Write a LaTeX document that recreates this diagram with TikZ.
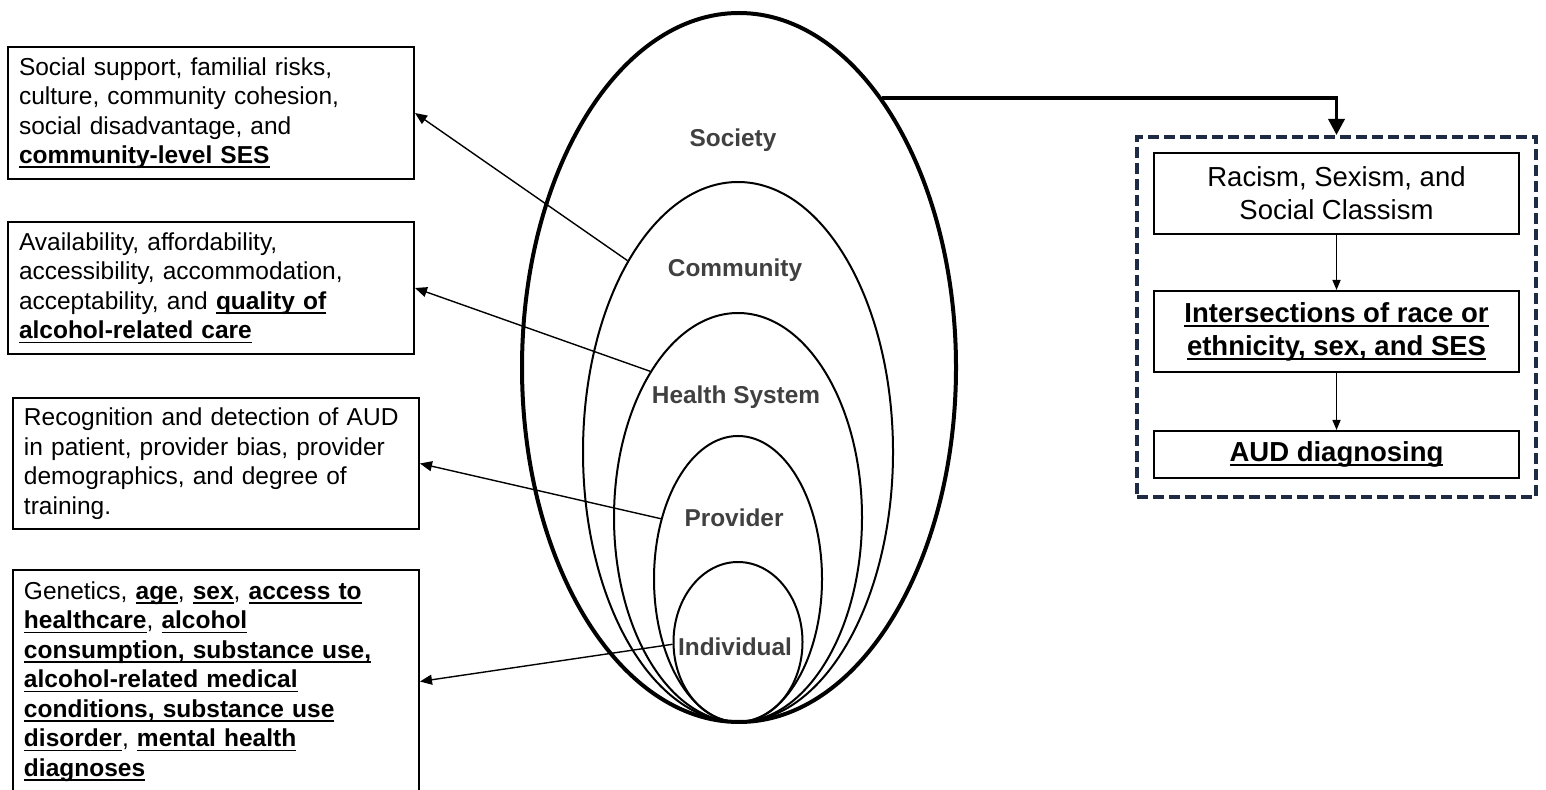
\documentclass[tikz,border=0pt]{standalone}
\usepackage{fontspec}
\setmainfont{Liberation Sans}
\usetikzlibrary{arrows.meta,shapes.geometric,calc}
\definecolor{navy}{RGB}{31,42,68}
\definecolor{lblgray}{RGB}{64,64,64}
\newcommand{\ulx}[1]{\leavevmode\setbox0\hbox{#1}\rlap{\rule[-2.3pt]{\wd0}{0.9pt}}\box0}
\newcommand{\ub}[1]{\ulx{\bfseries #1}}
\tikzset{
  leftbox/.style={draw, line width=1pt, rectangle, align=left, text width=192pt,
    inner xsep=5.5pt, inner ysep=0pt, anchor=north west,
    font=\fontsize{12.25}{14.75}\selectfont},
  ring/.style={ellipse, draw, line width=1pt, inner sep=0pt},
  lbl/.style={text=lblgray, font=\fontsize{12.2}{14}\selectfont\bfseries, inner sep=0pt},
  conn/.style={line width=0.7pt, -{Triangle[length=6pt,width=5pt]}},
  sconn/.style={line width=0.7pt, -{Triangle[length=5pt,width=4pt]}},
  bigconn/.style={line width=1.75pt, -{Triangle[length=8pt,width=8pt]}},
  grpbox/.style={draw=navy, line width=2pt, dash pattern=on 5.5pt off 2.5pt,
    minimum width=199.5pt, minimum height=180pt, inner sep=0pt},
  rbox/.style={draw, line width=1pt, minimum width=182.5pt, align=center, inner sep=0pt,
    font=\fontsize{13.75}{16.5}\selectfont},
  rboxb/.style={rbox, font=\fontsize{13.75}{16.5}\selectfont\bfseries}
}
\begin{document}
\begin{tikzpicture}[x=0.5pt,y=-0.5pt]
\useasboundingbox (0,0) rectangle (1546,790);

% rings
\node[ring, line width=2pt, minimum width=217pt, minimum height=354.5pt] (soc) at (739,367.5) {};
\node[ring, minimum width=155pt, minimum height=270pt] (com) at (738,452) {};
\node[ring, minimum width=124pt, minimum height=204.5pt] (hea) at (738,517.5) {};
\node[ring, minimum width=84pt, minimum height=143pt] (pro) at (738,579) {};
\node[ring, minimum width=64.5pt, minimum height=80pt] (ind) at (738,642) {};

% ring labels
\node[lbl] (lsoc) at (733,140) {Society};
\node[lbl] (lcom) at (735,270) {Community};
\node[lbl] (lhea) at (736,397) {Health System};
\node[lbl] (lpro) at (734,518) {Provider};
\node[lbl] (lind) at (735,647) {Individual};

% left boxes
\node[leftbox, minimum height=66pt] (b1) at (7,46)
  {Social support, familial risks,\\culture, community cohesion,\\social disadvantage, and\\\ub{community-level SES}};
\node[leftbox, minimum height=66pt] (b2) at (7,221)
  {Availability, affordability,\\accessibility, accommodation,\\acceptability, and \ub{quality of}\\\ub{alcohol-related care}};
\node[leftbox, minimum height=65.5pt] (b3) at (12,397)
  {Recognition and detection of AUD\\in patient, provider bias, provider\\demographics, and degree of\\training.};
\node[leftbox, minimum height=111.5pt] (b4) at (12,569)
  {Genetics, \ub{age}, \ub{sex}, \ub{access to}\\\ub{healthcare}, \ub{alcohol}\\\ub{consumption, substance use,}\\\ub{alcohol-related medical}\\\ub{conditions, substance use}\\\ub{disorder}, \ub{mental health}\\\ub{diagnoses}};

% connectors ring -> box
\draw[conn] (com.120) -- (b1.east);
\draw[conn] (hea.121.5) -- (b2.east);
\draw[conn] (pro.142) -- (b3.east);
\draw[conn] (ind.182.7) -- (b4.east);

% right group
\node[grpbox] (grp) at (1336.5,317) {};
\node[rbox, minimum height=40.5pt] (ra) at (1336.5,193.5) {Racism, Sexism, and\\Social Classism};
\node[rboxb, minimum height=40.5pt] (rb) at (1336.5,331.5) {\ulx{Intersections of race or}\\\ulx{ethnicity, sex, and SES}};
\node[rboxb, minimum height=23.5pt] (rc) at (1336.5,454.5) {\ulx{AUD diagnosing}};
\draw[sconn] (ra) -- (rb);
\draw[sconn] (rb) -- (rc);

% society -> group
\draw[bigconn] (soc.62) -- (soc.62 -| grp.north) -- (grp.north);
\end{tikzpicture}
\end{document}
